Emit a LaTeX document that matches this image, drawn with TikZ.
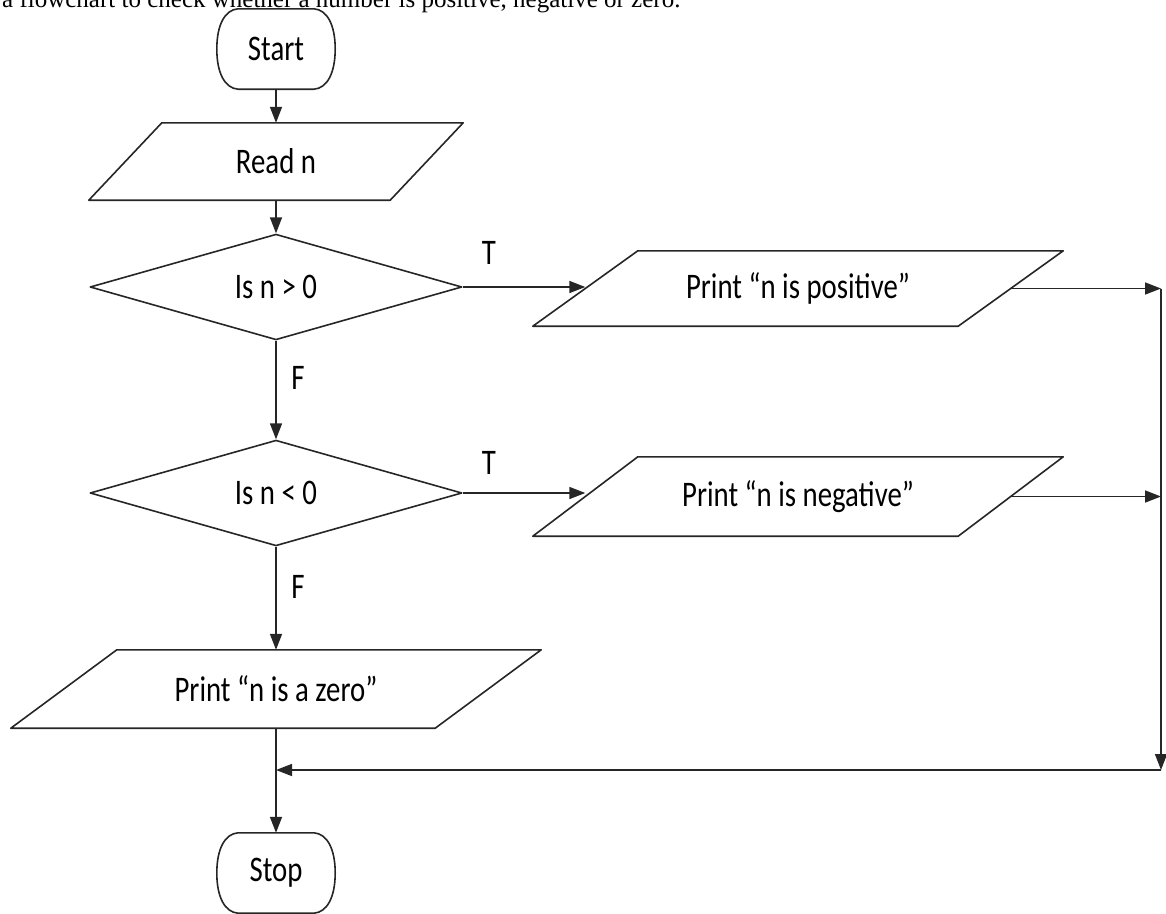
\documentclass[tikz,border=0pt]{standalone}
\usepackage{fontspec}
\setmainfont{Carlito}[FakeStretch=0.8]
\newfontfamily\capfont{Liberation Serif}
\usetikzlibrary{shapes.geometric,arrows.meta,calc}
\tikzset{
  line/.style={line width=1.6pt, draw=black!85},
  arr/.style={line, -{Triangle[length=16pt,width=12pt]}},
  txt/.style={font=\fontsize{36}{42}\selectfont, inner sep=0pt},
  box/.style={txt, rectangle, draw=none},
  dec/.style={txt, diamond, draw=black!85, line width=1.6pt, line join=round},
}
\newcommand\parabox[2]{\draw[line, line join=round] (#1.south west) -- ($(#1.north west)+(#2,0)$) -- (#1.north east) -- ($(#1.south east)+(-#2,0)$) -- cycle;}
\newcommand\termbox[1]{\draw[line] ($(#1.north)+(-38,0)$) -- ($(#1.north)+(38,0)$) .. controls ($(#1.north east)+(-8,1)$) and ($(#1.east)+(0,-24)$) .. (#1.east) .. controls ($(#1.east)+(0,24)$) and ($(#1.south east)+(-8,-1)$) .. ($(#1.south)+(38,0)$) -- ($(#1.south)+(-38,0)$) .. controls ($(#1.south west)+(8,-1)$) and ($(#1.west)+(0,24)$) .. (#1.west) .. controls ($(#1.west)+(0,-24)$) and ($(#1.north west)+(8,1)$) .. cycle;}
\begin{document}
\begin{tikzpicture}[x=1pt,y=-1pt]
\useasboundingbox (0,0) rectangle (1166,913);
\node[anchor=base west, inner sep=0pt, font=\capfont\fontsize{25}{30}\selectfont] (cap) at (2,7) {a flowchart to check whether a number is positive, negative or zero.};

\node[box, minimum width=118pt, minimum height=80pt] (start) at (276,49) {Start};
\node[box, minimum width=374pt, minimum height=77pt] (read) at (276,161.5) {Read n};
\node[dec, minimum width=372pt, minimum height=103pt] (d1) at (276,287) {Is n > 0};
\node[dec, minimum width=372pt, minimum height=104pt] (d2) at (276,493) {Is n < 0};
\node[box, minimum width=530pt, minimum height=75pt] (pos) at (798,288.5) {Print “n is positive”};
\node[box, minimum width=530pt, minimum height=79pt] (neg) at (798,496.5) {Print “n is negative”};
\node[box, minimum width=530pt, minimum height=78pt] (zero) at (276,689) {Print “n is a zero”};
\node[box, minimum width=118pt, minimum height=80pt] (stop) at (276,873) {Stop};

\termbox{start}
\termbox{stop}
\parabox{read}{73}
\parabox{pos}{105}
\parabox{neg}{105}
\parabox{zero}{106}

\coordinate (posL) at ($(pos.west)+(52.5,0)$);
\coordinate (posR) at ($(pos.east)+(-52.5,0)$);
\coordinate (negL) at ($(neg.west)+(52.5,0)$);
\coordinate (negR) at ($(neg.east)+(-52.5,0)$);
\coordinate (rail) at (1161,770);

\draw[arr] (start.south) -- (read.north);
\draw[arr] (read.south) -- (d1.north);
\draw[arr] (d1.south) -- (d2.north);
\draw[arr] (d2.south) -- (zero.north);
\draw[arr] (d1.east) -- (d1.east -| posL);
\draw[arr] (d2.east) -- (d2.east -| negL);
\draw[arr] (posR) -- (posR -| rail);
\draw[arr] (negR) -- (negR -| rail);
\draw[arr] (posR -| rail) -- (rail);
\draw[arr] (rail) -- (rail -| zero.south);
\draw[arr] (zero.south) -- (stop.north);

\node[txt] (t1) at (489,253) {T};
\node[txt] (t2) at (489,463) {T};
\node[txt] (f1) at (298,378) {F};
\node[txt] (f2) at (298,587) {F};
\end{tikzpicture}
\end{document}
